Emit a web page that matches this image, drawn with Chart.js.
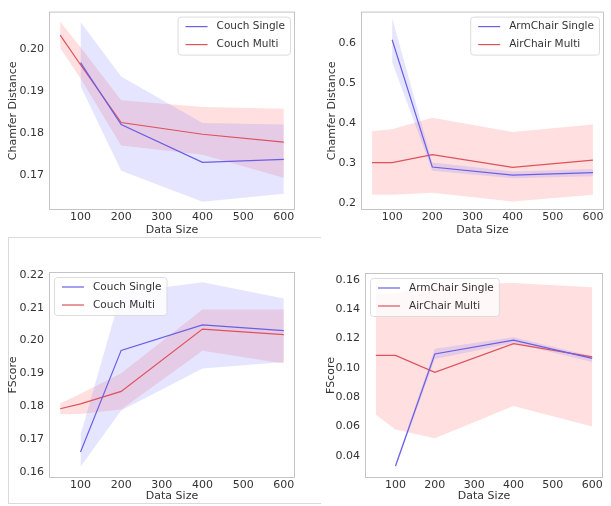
<!DOCTYPE html>
<html>
<head>
<meta charset="utf-8">
<script src="https://cdn.jsdelivr.net/npm/chart.js@4.4.1/dist/chart.umd.min.js"></script>
<style>
  body { margin: 0; background: #fff; width: 611px; height: 506px; position: relative; overflow: hidden; }
  canvas { position: absolute; }
  #frame { position: absolute; left: 8px; top: 237px; width: 312px; height: 265px;
           border: 1px solid #dadada; border-right: none; }
</style>
</head>
<body>
<div id="frame"></div>
<canvas id="c1" width="300" height="240" style="left:0;top:0"></canvas>
<canvas id="c2" width="306" height="240" style="left:305px;top:0"></canvas>
<canvas id="c3" width="300" height="256" style="left:0;top:250px"></canvas>
<canvas id="c4" width="306" height="256" style="left:305px;top:250px"></canvas>
<script>
// x positions shared by all four plots
const dataSizes = [50, 100, 200, 400, 600];
const xTicks = [100, 200, 300, 400, 500, 600];

// top left: chamfer distance, couch
const couchSingleCD   = [null, 0.1968, 0.1820, 0.1730, 0.1737];
const couchSingleCDHi = [null, 0.2065, 0.1935, 0.1824, 0.1820];
const couchSingleCDLo = [null, 0.1912, 0.1710, 0.1636, 0.1655];
const couchMultiCD    = [0.2034, 0.1963, 0.1825, 0.1797, 0.1778];
const couchMultiCDHi  = [0.2066, 0.2005, 0.1878, 0.1862, 0.1858];
const couchMultiCDLo  = [0.2003, 0.1930, 0.1770, 0.1748, 0.1693];
const cdTicksCouch = [0.17, 0.18, 0.19, 0.20];

// top right: chamfer distance, chairs
const armSingleCD   = [null, 0.608, 0.291, 0.271, 0.277];
const armSingleCDHi = [null, 0.662, 0.302, 0.280, 0.286];
const armSingleCDLo = [null, 0.552, 0.282, 0.263, 0.268];
const airMultiCD    = [0.302, 0.302, 0.322, 0.290, 0.308];
const airMultiCDHi  = [0.380, 0.385, 0.414, 0.378, 0.397];
const airMultiCDLo  = [0.222, 0.222, 0.227, 0.205, 0.222];
const cdTicksChair = [0.2, 0.3, 0.4, 0.5, 0.6];

// bottom left: fscore, couch
const couchSingleFS   = [null, 0.1660, 0.1970, 0.2048, 0.2030];
const couchSingleFSHi = [null, 0.1712, 0.2145, 0.2178, 0.2128];
const couchSingleFSLo = [null, 0.1615, 0.1787, 0.1915, 0.1935];
const couchMultiFS    = [0.1792, 0.1807, 0.1845, 0.2035, 0.2018];
const couchMultiFSHi  = [0.1808, 0.1838, 0.1900, 0.2095, 0.2095];
const couchMultiFSLo  = [0.1775, 0.1776, 0.1790, 0.1969, 0.1930];
const fsTicksCouch = [0.16, 0.17, 0.18, 0.19, 0.20, 0.21, 0.22];

// bottom right: fscore, chairs
const armSingleFS   = [null, 0.033, 0.1095, 0.119, 0.1065];
const armSingleFSHi = [null, 0.0345, 0.113, 0.121, 0.108];
const armSingleFSLo = [null, 0.0315, 0.106, 0.117, 0.104];
const airMultiFS    = [0.1085, 0.1085, 0.097, 0.1165, 0.1075];
const airMultiFSHi  = [0.150, 0.151, 0.1565, 0.158, 0.155];
const airMultiFSLo  = [0.068, 0.058, 0.052, 0.074, 0.060];
const fsTicksChair = [0.04, 0.06, 0.08, 0.10, 0.12, 0.14, 0.16];

Chart.defaults.font.family = "'DejaVu Sans', sans-serif";
Chart.defaults.font.size = 11;
Chart.defaults.color = "#333";

const BLUE = "rgb(105, 95, 228)";
const RED = "rgb(222, 82, 92)";
const BLUE_BAND = "rgba(110, 110, 255, 0.18)";
const RED_BAND = "rgba(255, 95, 95, 0.2)";

function pts(vals) {
  return dataSizes.map((x, i) => ({ x: x, y: vals[i] }));
}

// spines all round + legend inside the axes, like matplotlib
const boxAndLegend = {
  id: "boxAndLegend",
  afterDatasetsDraw(chart, args, opts) {
    const ctx = chart.ctx, a = chart.chartArea;
    ctx.save();
    ctx.strokeStyle = "#c4c4c4";
    ctx.lineWidth = 1;
    ctx.strokeRect(a.left + 0.5, a.top + 0.5, a.right - a.left - 1, a.bottom - a.top - 1);

    const items = chart.data.datasets.filter(d => d.label);
    ctx.font = "10.5px 'DejaVu Sans'";
    const textW = Math.max(...items.map(d => ctx.measureText(d.label).width));
    const w = 8 + 22 + 9 + textW + 5, h = 38;
    const x0 = opts.corner === "left" ? a.left + 5 : a.right - 5 - w;
    const y0 = a.top + 5;
    ctx.fillStyle = "rgba(255,255,255,0.8)";
    ctx.strokeStyle = "#dcdcdc";
    ctx.beginPath();
    ctx.roundRect(x0 + 0.5, y0 + 0.5, w, h, 3);
    ctx.fill();
    ctx.stroke();
    items.forEach((d, i) => {
      const y = y0 + 10 + i * 18;
      ctx.strokeStyle = d.borderColor;
      ctx.lineWidth = 1.2;
      ctx.beginPath();
      ctx.moveTo(x0 + 8, y);
      ctx.lineTo(x0 + 30, y);
      ctx.stroke();
      ctx.fillStyle = "#333";
      ctx.textBaseline = "middle";
      ctx.fillText(d.label, x0 + 39, y);
    });
    ctx.restore();
  }
};

function seriesSets(label, mean, hi, lo, color, band) {
  return [
    { data: pts(hi), borderWidth: 0, pointRadius: 0, fill: false, order: 2 },
    { data: pts(lo), borderWidth: 0, pointRadius: 0, fill: "-1", backgroundColor: band, order: 2 },
    { label: label, data: pts(mean), borderColor: color, borderWidth: 1.2, pointRadius: 0, fill: false, order: 0 }
  ];
}

function makeChart(id, o) {
  const datasets = [];
  o.series.forEach(s => {
    const sets = seriesSets(s.label, s.mean, s.hi, s.lo, s.color, s.band);
    datasets.push(...sets);
  });
  // lines above bands
  return new Chart(document.getElementById(id), {
    type: "line",
    data: { datasets: datasets },
    plugins: [boxAndLegend],
    options: {
      responsive: false,
      animation: false,
      layout: { padding: { top: o.padTop, right: o.padRight, left: 0, bottom: 0 } },
      plugins: {
        legend: { display: false },
        tooltip: { enabled: false },
        boxAndLegend: { corner: o.corner }
      },
      scales: {
        x: {
          type: "linear",
          min: 22.5,
          max: 627.5,
          grid: { display: false, drawTicks: false },
          border: { display: false },
          afterBuildTicks: s => { s.ticks = xTicks.map(v => ({ value: v })); },
          afterFit: s => { s.height = o.xHeight; },
          ticks: { padding: 1, maxRotation: 0, color: "#333" },
          title: { display: true, text: "Data Size", padding: { top: 0, bottom: 3 }, color: "#333" }
        },
        y: {
          min: o.yMin,
          max: o.yMax,
          grid: { display: false, drawTicks: false },
          border: { display: false },
          afterBuildTicks: s => { s.ticks = o.yTicks.map(v => ({ value: v })); },
          afterFit: s => { s.width = o.yWidth; },
          ticks: { padding: 5, color: "#333", callback: v => v.toFixed(o.decimals) },
          title: { display: true, text: o.yTitle, padding: { top: o.titlePad, bottom: 0 }, color: "#333" }
        }
      }
    }
  });
}

makeChart("c1", {
  yTitle: "Chamfer Distance", yMin: 0.1616, yMax: 0.209, yTicks: cdTicksCouch, decimals: 2,
  yWidth: 49, titlePad: 6.4, xHeight: 30, padTop: 5, padRight: 5, corner: "right",
  series: [
    { label: "Couch Single", mean: couchSingleCD, hi: couchSingleCDHi, lo: couchSingleCDLo, color: BLUE, band: BLUE_BAND },
    { label: "Couch Multi", mean: couchMultiCD, hi: couchMultiCDHi, lo: couchMultiCDLo, color: RED, band: RED_BAND }
  ]
});

makeChart("c2", {
  yTitle: "Chamfer Distance", yMin: 0.184, yMax: 0.678, yTicks: cdTicksChair, decimals: 1,
  yWidth: 56, titlePad: 20.4, xHeight: 30, padTop: 5, padRight: 7, corner: "right",
  series: [
    { label: "ArmChair Single", mean: armSingleCD, hi: armSingleCDHi, lo: armSingleCDLo, color: BLUE, band: BLUE_BAND },
    { label: "AirChair Multi", mean: airMultiCD, hi: airMultiCDHi, lo: airMultiCDLo, color: RED, band: RED_BAND }
  ]
});

makeChart("c3", {
  yTitle: "FScore", yMin: 0.1581, yMax: 0.2209, yTicks: fsTicksCouch, decimals: 2,
  yWidth: 49, titlePad: 6.4, xHeight: 28, padTop: 22, padRight: 5, corner: "left",
  series: [
    { label: "Couch Single", mean: couchSingleFS, hi: couchSingleFSHi, lo: couchSingleFSLo, color: BLUE, band: BLUE_BAND },
    { label: "Couch Multi", mean: couchMultiFS, hi: couchMultiFSHi, lo: couchMultiFSLo, color: RED, band: RED_BAND }
  ]
});

makeChart("c4", {
  yTitle: "FScore", yMin: 0.0248, yMax: 0.1648, yTicks: fsTicksChair, decimals: 2,
  yWidth: 60, titlePad: 20, xHeight: 28, padTop: 23, padRight: 8, corner: "left",
  series: [
    { label: "ArmChair Single", mean: armSingleFS, hi: armSingleFSHi, lo: armSingleFSLo, color: BLUE, band: BLUE_BAND },
    { label: "AirChair Multi", mean: airMultiFS, hi: airMultiFSHi, lo: airMultiFSLo, color: RED, band: RED_BAND }
  ]
});
</script>
</body>
</html>
